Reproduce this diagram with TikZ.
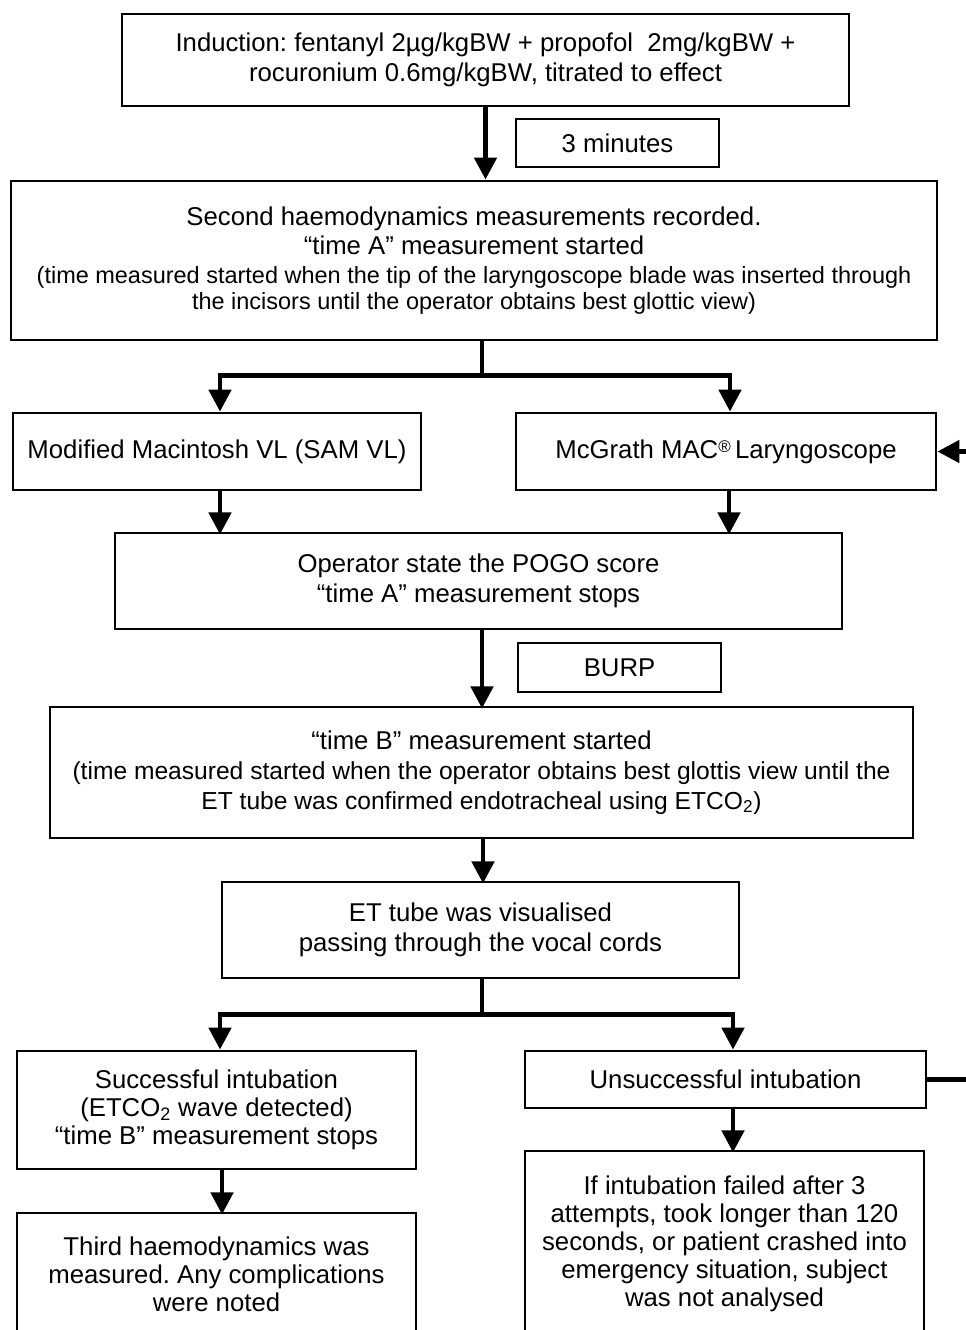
\documentclass[tikz,border=0pt]{standalone}
\usepackage{fontspec}
\setmainfont{Liberation Sans}
\usetikzlibrary{arrows.meta}
\frenchspacing
\tikzset{
  box/.style 2 args={draw,line width=2pt,align=center,inner sep=0pt,
    minimum width=#1*0.025cm,minimum height=#2*0.025cm,
    font=\fontsize{18.3}{21.2}\selectfont},
  flow/.style={line width=3.4pt,-{Triangle[length=0.55cm,width=0.55cm]}},
  link/.style={line width=3.4pt},
}
\newcommand\parenA{\fontsize{16.7}{18.6}\selectfont}
\newcommand\parenB{\fontsize{17.5}{20.6}\selectfont}
\begin{document}
\begin{tikzpicture}[x=0.025cm,y=-0.025cm,line join=miter]
  \useasboundingbox (0,0) rectangle (966,1330);
  \clip (0,0) rectangle (966,1330);
  \node[box={727}{92}] (ind) at (485.5,60) {Induction: fentanyl 2µg/kgBW + propofol \ 2mg/kgBW +\\rocuronium 0.6mg/kgBW, titrated to effect};
  \node[box={203}{48}] (min3) at (617.5,143) {3 minutes};
  \node[box={926}{159}] (sec) at (474,260.5) {Second haemodynamics measurements recorded.\\[-0.6pt]“time A” measurement started\\[-0.6pt]\parenA(time measured started when the tip of the laryngoscope blade was inserted through\\[-2.4pt]\parenA the incisors until the operator obtains best glottic view)};
  \node[box={408}{77}] (mac) at (217,451.5) {Modified Macintosh VL (SAM VL)};
  \node[box={420}{77}] (mcg) at (726,451.5) {McGrath MAC{\raisebox{0.45ex}{\fontsize{12}{12}\selectfont®}}\,Laryngoscope};
  \node[box={727}{96}] (op) at (478.5,581) {Operator state the POGO score\\“time A” measurement stops};
  \node[box={203}{49}] (burp) at (619.5,667.5) {BURP};
  \node[box={863}{131}] (timeb) at (481.5,772.5) {“time B” measurement started\\\parenB(time measured started when the operator obtains best glottis view until the\\\parenB ET tube was confirmed endotracheal using ETCO\textsubscript{2})};
  \node[box={517}{96}] (ett) at (480.5,930) {ET tube was visualised\\passing through the vocal cords};
  \node[box={399}{118}] (suc) at (216.5,1110) {Successful intubation\\[-1.3pt](ETCO\textsubscript{2} wave detected)\\[-1.3pt]“time B” measurement stops};
  \node[box={401}{57}] (uns) at (725.5,1079.5) {Unsuccessful intubation};
  \node[box={399}{122}] (third) at (216.5,1274) {Third haemodynamics was\\[-1.3pt]measured. Any complications\\[-1.3pt]were noted};
  \node[box={399}{185}] (fail) at (724.5,1243.5) {If intubation failed after 3\\[-1.3pt]attempts, took longer than 120\\[-1.3pt]seconds, or patient crashed into\\[-1.3pt]emergency situation, subject\\[-1.3pt]was not analysed};
  % connectors
  \draw[flow] (ind) -- (ind|-sec.north);
  \draw[link] ([xshift=8*0.025cm]sec.south) -- ++(0,34) coordinate (s1);
  \draw[flow] (s1) -| ([xshift=3*0.025cm]mac.north);
  \draw[flow] (s1) -| ([xshift=4*0.025cm]mcg.north);
  \draw[flow] ([xshift=3*0.025cm]mac.south) -- ++(0,43);
  \draw[flow] ([xshift=3*0.025cm]mcg.south) -- ++(0,43);
  \draw[flow] ([xshift=3.5*0.025cm]op.south) -- ++(0,78);
  \draw[flow] ([xshift=1.5*0.025cm]timeb.south) -- ++(0,44);
  \draw[link] ([xshift=1.5*0.025cm]ett.south) -- ++(0,35) coordinate (s2);
  \draw[flow] (s2) -| ([xshift=3.5*0.025cm]suc.north);
  \draw[flow] (s2) -| ([xshift=7.5*0.025cm]uns.north);
  \draw[flow] ([xshift=5.5*0.025cm]suc.south) -- ++(0,44);
  \draw[flow] ([xshift=7.5*0.025cm]uns.south) -- ++(0,43);
  \draw[flow] (uns.east) -- ++(70,0) |- (mcg.east);
\end{tikzpicture}
\end{document}
